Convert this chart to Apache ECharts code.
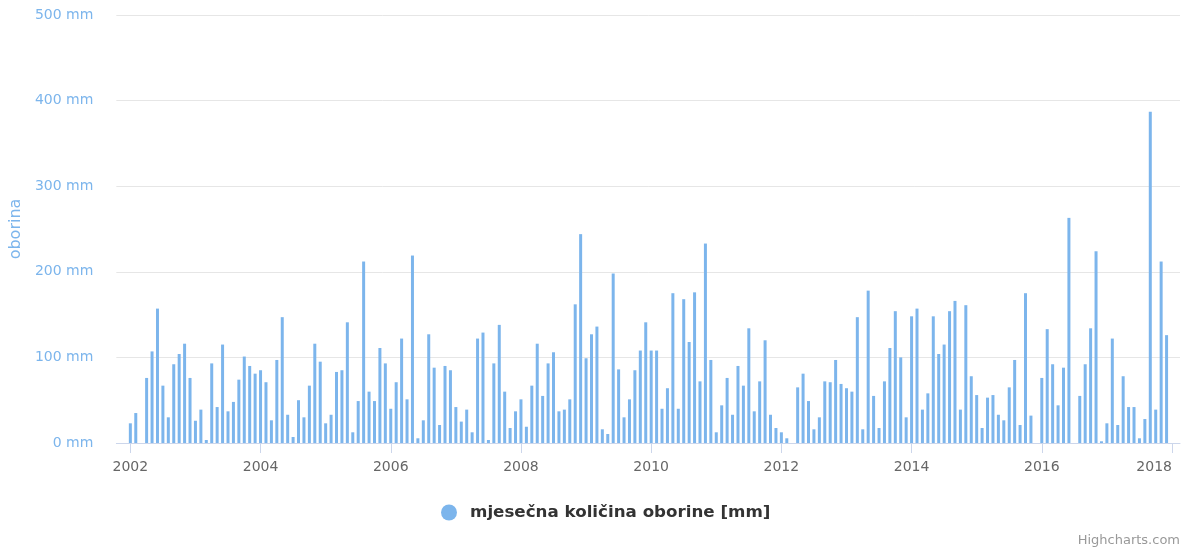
<!DOCTYPE html>
<html>
<head>
<meta charset="utf-8">
<script src="https://cdn.jsdelivr.net/npm/echarts@6/dist/echarts.min.js"></script>
<style>
  html, body { margin: 0; padding: 0; background: #fff; }
  #chart { width: 1190px; height: 552px; }
</style>
</head>
<body>
<div id="chart"></div>
<script>
// mjesečna količina oborine, siječanj 2002 - prosinac 2017 (mm)
const startYear = 2002
const monthlyRain = [
  23, 35, 0, 76, 107, 157, 67, 30, 92, 104, 116, 76,        // 2002
  26, 39, 3.5, 93, 42, 115, 37, 48, 74, 101, 90, 81,        // 2003
  85, 71, 26.5, 97, 147, 33, 7, 50, 30, 67, 116, 95,        // 2004
  23, 33, 83, 85, 141, 12.5, 49, 212, 60, 49, 111, 93,      // 2005
  40, 71, 122, 51, 219, 5.5, 26.5, 127, 88, 21, 90, 85,     // 2006
  42, 25, 39, 12.5, 122, 129, 3.5, 93, 138, 60, 17.5, 37,   // 2007
  51, 19, 67, 116, 55, 93, 106, 37, 39, 51, 162, 244,       // 2008
  99, 127, 136, 16, 10.5, 198, 86, 30, 51, 85, 108, 141,    // 2009
  108, 108, 40, 64, 175, 40, 168, 118, 176, 72, 233, 97,    // 2010
  12.5, 44, 76, 33, 90, 67, 134, 37, 72, 120, 33, 17.5,     // 2011
  12.5, 5.5, 0, 65, 81, 49, 16, 30, 72, 71, 97, 69,         // 2012
  64, 60, 147, 16, 178, 55, 17.5, 72, 111, 154, 100, 30,    // 2013
  148, 157, 39, 58, 148, 104, 115, 154, 166, 39, 161, 78,   // 2014
  56, 17.5, 53, 56, 33, 26.5, 65, 97, 21, 175, 32, 0,       // 2015
  76, 133, 92, 44, 88, 263, 0, 55, 92, 134, 224, 2,         // 2016
  23, 122, 21, 78, 42, 42, 5.5, 28, 387, 39, 212, 126       // 2017
]
const yearTicks = [2002, 2004, 2006, 2008, 2010, 2012, 2014, 2016, 2018]

const seriesName = 'mjesečna količina oborine [mm]'
const font = 'DejaVu Sans'

const chart = echarts.init(document.getElementById('chart'))

// svaki mjesec na svoju poziciju (godina + mjesec/12)
const barData = monthlyRain.map((v, i) => [startYear + i / 12, v])

const option = {
  animation: false,
  textStyle: { fontFamily: font },
  grid: { left: 115, right: 10, top: 15, bottom: 109 },
  legend: {
    left: 441,
    top: 504,
    padding: 0,
    icon: 'circle',
    itemWidth: 16,
    itemHeight: 16,
    textStyle: {
      color: '#333333',
      fontSize: 16.7,
      fontWeight: 'bold',
      fontFamily: font,
      padding: [0, 0, 0, 8]
    },
    data: [seriesName]
  },
  xAxis: {
    type: 'value',
    min: 2001.785,
    max: 2018.123,
    splitLine: { show: false },
    axisLine: { lineStyle: { color: '#ccd6eb' } },
    axisTick: {
      length: 10,
      customValues: yearTicks,
      lineStyle: { color: '#ccd6eb' }
    },
    axisLabel: {
      customValues: yearTicks,
      margin: 17,
      color: '#666666',
      fontSize: 14,
      fontFamily: font,
      alignMaxLabel: 'right',
      formatter: v => String(v)
    }
  },
  yAxis: {
    type: 'value',
    min: 0,
    max: 500,
    interval: 100,
    name: 'oborina',
    nameLocation: 'middle',
    nameRotate: 90,
    nameGap: 86,
    nameTextStyle: { color: '#7cb5ec', fontSize: 16, fontFamily: font },
    axisLine: { show: false },
    axisTick: { show: false },
    splitLine: { lineStyle: { color: '#e6e6e6' } },
    axisLabel: {
      margin: 23,
      color: '#7cb5ec',
      fontSize: 14,
      fontFamily: font,
      padding: [4, 0, 0, 0],
      formatter: '{value} mm'
    }
  },
  series: [
    {
      name: seriesName,
      type: 'bar',
      barWidth: 3,
      itemStyle: { color: '#7cb5ec' },
      data: barData
    }
  ],
  graphic: [
    {
      type: 'text',
      right: 10,
      bottom: 5,
      style: { text: 'Highcharts.com', fill: '#999999', fontSize: 13, fontFamily: font }
    }
  ]
}

chart.setOption(option)
</script>
</body>
</html>
